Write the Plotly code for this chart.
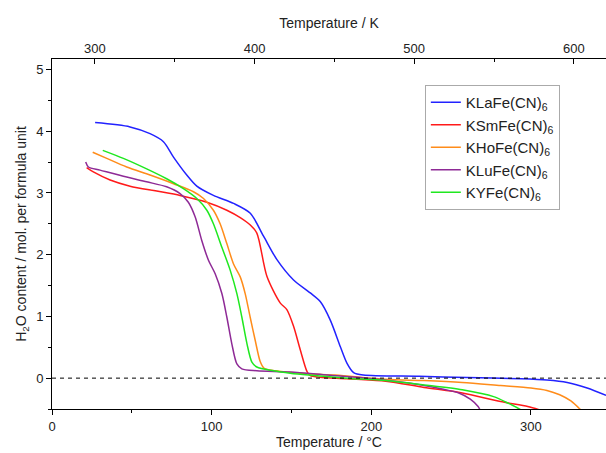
import plotly.graph_objects as go

# KLaFe(CN)6
la_x = [27, 48.9, 61.4, 69.8, 76.1, 84.4, 90.7, 101.1, 113.7, 124.2, 132.5, 140.9, 151.3, 161.8, 168, 174.3, 180.6, 184.8, 188.9, 195, 230, 260, 293.4, 310, 322.7, 335.2, 347]
la_y = [4.14, 4.07, 3.96, 3.83, 3.58, 3.29, 3.11, 2.96, 2.83, 2.67, 2.30, 1.92, 1.59, 1.38, 1.24, 0.94, 0.51, 0.24, 0.09, 0.05, 0.03, 0.01, -0.01, -0.03, -0.07, -0.16, -0.28]
# KSmFe(CN)6
sm_x = [21.7, 25.9, 36.4, 48.9, 65.6, 80.2, 97, 109.5, 117.9, 124.2, 128.3, 134.6, 142.9, 147.1, 151.3, 155.5, 159.7, 161.8, 184.8, 209, 233, 257, 281, 298, 305]
sm_y = [3.41, 3.34, 3.21, 3.11, 3.03, 2.96, 2.85, 2.72, 2.60, 2.48, 2.35, 1.65, 1.22, 1.11, 0.84, 0.46, 0.11, 0.04, -0.01, -0.05, -0.15, -0.24, -0.38, -0.46, -0.51]
# KHoFe(CN)6
ho_x = [25.5, 34.3, 46.8, 61.4, 76.1, 88.6, 94.9, 101.1, 105.3, 109.5, 113.7, 117.9, 121, 124.1, 127.3, 130.4, 132.9, 140, 160.6, 177.5, 209, 233, 257, 281, 300, 310, 318, 325, 331]
ho_y = [3.66, 3.56, 3.42, 3.29, 3.15, 3.02, 2.91, 2.72, 2.50, 2.18, 1.85, 1.64, 1.37, 0.99, 0.61, 0.27, 0.16, 0.12, 0.07, 0.05, -0.02, -0.04, -0.07, -0.12, -0.16, -0.20, -0.27, -0.37, -0.51]
# KLuFe(CN)6
lu_x = [21.1, 22.8, 30.1, 44.7, 59.3, 71.8, 80.2, 85.4, 89.7, 93.8, 98, 102.2, 106.4, 109.5, 112.6, 115.8, 118.9, 128.3, 149.2, 172.7, 196.9, 221, 233, 245.2, 254.8, 262, 266.9, 268]
lu_y = [3.50, 3.42, 3.37, 3.27, 3.18, 3.10, 2.99, 2.85, 2.61, 2.23, 1.91, 1.69, 1.37, 0.99, 0.56, 0.23, 0.15, 0.12, 0.10, 0.05, 0.0, -0.07, -0.12, -0.18, -0.24, -0.34, -0.46, -0.51]
# KYFe(CN)6
y_x = [31.8, 44.7, 59.3, 71.8, 82.3, 90.7, 97, 101.1, 106.4, 111.6, 115.8, 118.9, 122.1, 125.2, 128.3, 138.8, 149.2, 160.6, 184.8, 209, 233, 257, 276.6, 286, 293.5]
y_y = [3.69, 3.56, 3.39, 3.23, 3.07, 2.91, 2.72, 2.50, 2.12, 1.75, 1.37, 0.99, 0.56, 0.26, 0.18, 0.12, 0.08, 0.05, 0.0, -0.04, -0.11, -0.19, -0.30, -0.41, -0.51]

names = ["KLaFe(CN)<sub>6</sub>", "KSmFe(CN)<sub>6</sub>", "KHoFe(CN)<sub>6</sub>",
         "KLuFe(CN)<sub>6</sub>", "KYFe(CN)<sub>6</sub>"]
colors = ["#2222FF", "#FF1A1A", "#FF8C1A", "#8E2A96", "#1FE81F"]
series = [(la_x, la_y), (sm_x, sm_y), (ho_x, ho_y), (lu_x, lu_y), (y_x, y_y)]

x_range = [0, 347]
y_range = [-0.5, 5.17]
kelvin = 273.15

fig = go.Figure()
for (xs, ys), n, c in zip(series, names, colors):
    fig.add_trace(go.Scatter(x=xs, y=ys, name=n, mode="lines",
                             line=dict(color=c, width=1.5, shape="spline", smoothing=0.8)))

# invisible trace for top Kelvin axis
fig.add_trace(go.Scatter(x=[x_range[0] + kelvin, x_range[1] + kelvin], y=[None, None],
                         xaxis="x2", showlegend=False, hoverinfo="skip"))

fig.add_shape(type="line", xref="paper", x0=0, x1=1, yref="y", y0=0, y1=0,
              line=dict(color="black", width=1, dash="4px,4px"))

font = "Liberation Sans, Arial, sans-serif"
fig.update_layout(
    width=606, height=453,
    margin=dict(l=52, r=0, t=59, b=44),
    plot_bgcolor="white", paper_bgcolor="white",
    font=dict(family=font, size=13, color="#222"),
    xaxis=dict(range=x_range, showline=True, linecolor="black", linewidth=1,
               ticks="outside", ticklen=5, tickcolor="black", dtick=100, tick0=0,
               minor=dict(dtick=50, ticks="outside", ticklen=3, tickcolor="black"),
               showgrid=False, zeroline=False,
               title=dict(text="Temperature / °C", font=dict(size=14), standoff=4)),
    xaxis2=dict(range=[x_range[0] + kelvin, x_range[1] + kelvin], overlaying="x", side="top",
                showline=True, linecolor="black", linewidth=1,
                ticks="inside", ticklen=5, tickcolor="black", dtick=100, tick0=0,
                minor=dict(dtick=50, ticks="inside", ticklen=3, tickcolor="black"),
                showgrid=False, zeroline=False,
                title=dict(text="Temperature / K", font=dict(size=14), standoff=8)),
    yaxis=dict(range=y_range, showline=True, linecolor="black", linewidth=1,
               ticks="outside", ticklen=5, tickcolor="black", dtick=1, tick0=0,
               minor=dict(dtick=0.5, ticks="outside", ticklen=3, tickcolor="black"),
               showgrid=False, zeroline=False,
               title=dict(text="H<sub>2</sub>O content / mol. per formula unit",
                          font=dict(size=14), standoff=6)),
    legend=dict(x=0.673, y=0.926, xanchor="left", yanchor="top",
                bordercolor="#AAAAAA", borderwidth=1, bgcolor="white",
                font=dict(size=15, color="#222"), tracegroupgap=0),
)

fig.write_html("out.html")
